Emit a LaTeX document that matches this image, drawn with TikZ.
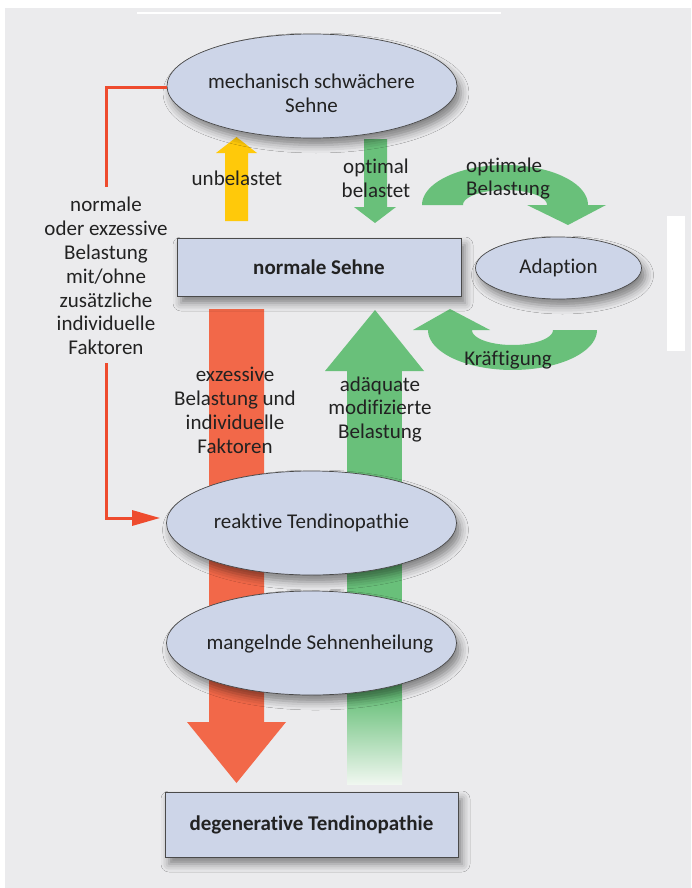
\documentclass[tikz,border=0pt]{standalone}
\usepackage{fontspec}
\setmainfont{Carlito}[RawFeature={-liga;-clig;-calt;-dlig}]
\usetikzlibrary{shapes.geometric,shadows.blur,arrows.meta}
\definecolor{bg}{HTML}{EBEBED}
\definecolor{nodefill}{HTML}{CDD5E8}
\definecolor{bordc}{HTML}{4A4A4A}
\definecolor{redbar}{HTML}{F26849}
\definecolor{redline}{HTML}{EE4B2E}
\definecolor{grn}{HTML}{69C07A}
\definecolor{grnlight}{HTML}{F0F7F0}
\definecolor{yel}{HTML}{FFC90A}
\definecolor{txtc}{HTML}{222222}
\newcommand\myfs{\fontsize{21}{23.8}\selectfont}
\newcommand\tiNL{t\kern0pt i}
\begin{document}
\begin{tikzpicture}[x=1pt,y=-1pt,
  every node/.style={text=txtc, font=\myfs},
  shd/.style={blur shadow={shadow xshift=4pt, shadow yshift=-7pt, shadow blur radius=8pt, shadow opacity=45}},
  ell/.style={ellipse, draw=bordc, line width=0.7pt, fill=nodefill, inner sep=0pt, shd},
  bigell/.style={ell, minimum width=290pt, minimum height=104pt},
  box/.style={rectangle, draw=bordc, line width=0.8pt, fill=nodefill, inner sep=0pt, shd, font=\myfs\bfseries},
  lbl/.style={align=center, inner sep=0pt},
  conn/.style={draw=redline, line width=3pt}
]
\useasboundingbox (0,0) rectangle (691,888);
\fill[bg] (5,8) rectangle (691,888);
\draw[white, line width=1.5pt] (137,13) -- (501,13);
\fill[white] (667,216) rectangle (685,351);

% block arrows
\fill[yel] (225,221) -- (225,153) -- (216,153) -- (236.5,137) -- (257,153) -- (248,153) -- (248,221) -- cycle;
\fill[grn] (364,139) -- (387,139) -- (387,207) -- (396,207) -- (375,223) -- (354,207) -- (364,207) -- cycle;
\fill[redbar] (209,309) -- (264,309) -- (264,722) -- (286,722) -- (236.5,783) -- (187,722) -- (209,722) -- cycle;
\fill[grn] (325,371) -- (375,310) -- (424,371) -- cycle;
\fill[grn] (347,370) rectangle (402,696);
\shade[top color=grn, bottom color=grnlight] (347,695) rectangle (402,784);

% curved arrows
\fill[grn] (422,205) -- plot[domain=180:0,samples=60] ({505+83*cos(\x)},{205-40*sin(\x)})
  -- (606,205) -- (568,225) -- (527,205)
  -- plot[domain=0:180,samples=60] ({505+42*cos(\x)},{205-15*sin(\x)}) -- cycle;
\fill[grn] (597,330) -- plot[domain=0:180,samples=60] ({512.5+84.5*cos(\x)},{330+40*sin(\x)})
  -- (413,330) -- (450,309) -- (490,330)
  -- plot[domain=180:0,samples=60] ({512.5+40.5*cos(\x)},{330+15*sin(\x)}) -- cycle;

% nodes
\node[bigell] (mech) at (312,86) {};
\node[lbl] (mecht) at (311.5,93) {mechanisch schwächere\\Sehne};
\node[box, minimum width=284pt, minimum height=58pt] (norm) at (319,267) {normale Sehne};
\node[ell, minimum width=166pt, minimum height=62pt] (adap) at (558.5,268) {Adap\tiNL on};
\node[bigell] (reak) at (311.5,523) {reak\tiNL ve Tendinopathie};
\node[bigell] (mang) at (311.5,643) {};
\node[lbl] (mangt) at (320,644) {mangelnde Sehnenheilung};
\node[box, minimum width=293pt, minimum height=65pt] (degen) at (311.5,824.5) {degenera\tiNL ve Tendinopathie};

% red connector
\coordinate (r1) at (106,187);
\coordinate (r2) at (106,363);
\draw[conn] ([yshift=-2pt]mech.west) -| (r1);
\draw[conn, -{Triangle[length=28pt,width=15pt]}] (r2) |- ([xshift=-6pt,yshift=5pt]reak.west);

% labels
\node[lbl] (lleft) at (106,276) {normale\\oder exzessive\\Belastung\\mit/ohne\\zusätzliche\\individuelle\\Faktoren};
\node[lbl] (lunb) at (237,178) {unbelastet};
\node[lbl] (lopt) at (376,178.5) {op\tiNL mal\\belastet};
\node[lbl, align=left, anchor=west] (lopb) at (466,178.5) {op\tiNL male\\Belastung};
\node[lbl] (lkr) at (508,360) {Kräftigung};
\node[lbl] (lexz) at (235,410.5) {exzessive\\Belastung und\\individuelle\\Faktoren};
\node[lbl] (ladq) at (380,409.5) {adäquate\\modifizierte\\Belastung};
\end{tikzpicture}
\end{document}
